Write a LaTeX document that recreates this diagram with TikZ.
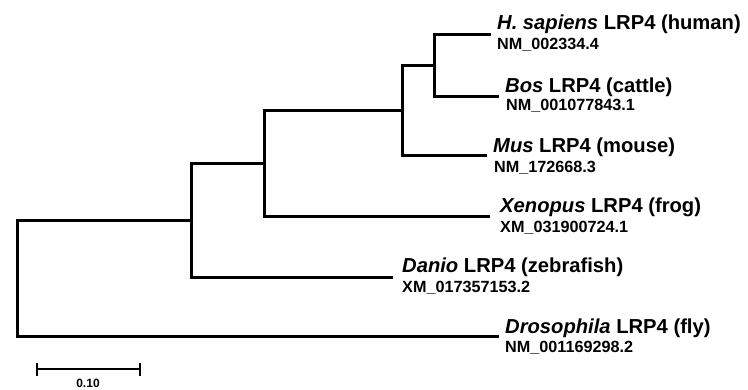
\documentclass[tikz,border=0pt]{standalone}
\usepackage{fontspec}
\setmainfont{Liberation Sans}
\usetikzlibrary{arrows.meta}

\begin{document}
\begin{tikzpicture}[x=1pt, y=-1pt,
    branch/.style={line width=3pt},
    taxon/.style={inner sep=0pt, anchor=base west, font=\fontsize{20.2}{22}\selectfont\bfseries},
    accession/.style={inner sep=0pt, anchor=base west, font=\fontsize{16.2}{18}\selectfont\bfseries},
    scalebar/.style={line width=2pt, {Bar[width=13pt]}-{Bar[width=13pt]}}]
            \useasboundingbox (0,0) rectangle (748,389);

            % Internal nodes of the tree
            \coordinate (root) at (17,278);
            \coordinate (nodeA) at (191,220);
            \coordinate (nodeB) at (264,163);
            \coordinate (nodeC) at (402,110);
            \coordinate (nodeD) at (434,65);

            % Tips of the branches
            \coordinate (human) at (491,34);
            \coordinate (cattle) at (499,96);
            \coordinate (mouse) at (487,155);
            \coordinate (frog) at (490,216);
            \coordinate (zebrafish) at (393,277);
            \coordinate (fly) at (499,336);

            % Draw the branches
            \draw[branch] (root) |- (nodeA);
            \draw[branch] (root) |- (fly);
            \draw[branch] (nodeA) |- (nodeB);
            \draw[branch] (nodeA) |- (zebrafish);
            \draw[branch] (nodeB) |- (nodeC);
            \draw[branch] (nodeB) |- (frog);
            \draw[branch] (nodeC) |- (nodeD);
            \draw[branch] (nodeC) |- (mouse);
            \draw[branch] (nodeD) |- (human);
            \draw[branch] (nodeD) |- (cattle);

            % Species names
            \node[taxon] (humanName) at ([xshift=6pt,yshift=5pt]human) {\textit{H. sapiens} LRP4 (human)};
            \node[taxon] (cattleName) at ([xshift=6pt,yshift=4pt]cattle) {\textit{Bos} LRP4 (cattle)};
            \node[taxon] (mouseName) at ([xshift=6pt,yshift=3pt]mouse) {\textit{Mus} LRP4 (mouse)};
            \node[taxon] (frogName) at ([xshift=10pt,yshift=4pt]frog) {\textit{Xenopus} LRP4 (frog)};
            \node[taxon] (zebrafishName) at ([xshift=9pt,yshift=5pt]zebrafish) {\textit{Danio} LRP4 (zebrafish)};
            \node[taxon] (flyName) at ([xshift=6pt,yshift=3pt]fly) {\textit{Drosophila} LRP4 (fly)};

            % Accession numbers
            \node[accession] (humanAcc) at ([xshift=6pt,yshift=-15pt]human) {NM\_002334.4};
            \node[accession] (cattleAcc) at ([xshift=7pt,yshift=-14pt]cattle) {NM\_001077843.1};
            \node[accession] (mouseAcc) at ([xshift=7pt,yshift=-17pt]mouse) {NM\_172668.3};
            \node[accession] (frogAcc) at ([xshift=10pt,yshift=-16pt]frog) {XM\_031900724.1};
            \node[accession] (zebrafishAcc) at ([xshift=9pt,yshift=-15pt]zebrafish) {XM\_017357153.2};
            \node[accession] (flyAcc) at ([xshift=6pt,yshift=-16pt]fly) {NM\_001169298.2};

            % Scale bar
            \coordinate (barL) at (36,369);
            \coordinate (barR) at (141,369);
            \draw[scalebar] (barL) -- (barR);
            \node[font=\fontsize{12}{13}\selectfont\bfseries, anchor=base] (barLabel) at (88,387) {0.10};
\end{tikzpicture}
\end{document}
